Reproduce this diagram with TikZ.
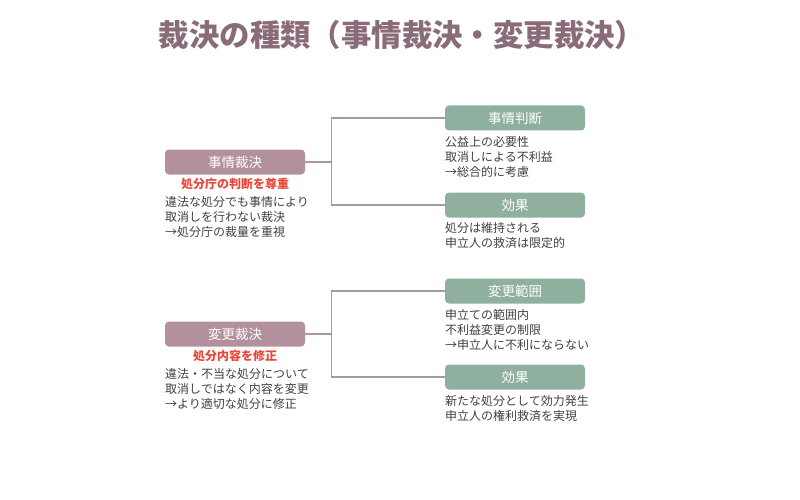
\documentclass[tikz,border=0pt]{standalone}
\usepackage{fontspec}
\setmainfont{Noto Sans CJK JP}
\usetikzlibrary{calc}

\definecolor{titlecol}{HTML}{8A6B79}
\definecolor{mauve}{HTML}{B3919C}
\definecolor{sage}{HTML}{8FAF9F}
\definecolor{accent}{HTML}{E8483A}
\definecolor{linecol}{HTML}{A8999F}
\definecolor{bodycol}{HTML}{404040}

\begin{document}
\begin{tikzpicture}[x=1pt,y=-1pt]
	 \tikzstyle{kind}=[rectangle,rounded corners=4pt,minimum width=140pt,minimum height=25pt,inner sep=0pt,text=white,font=\fontsize{13.5}{15}\selectfont]
	 \tikzstyle{main}=[kind,fill=mauve]
	 \tikzstyle{sub}=[kind,fill=sage]
	 \tikzstyle{point}=[text=accent,font=\fontsize{12}{14}\selectfont\bfseries]
	 \tikzstyle{body}=[anchor=north west,inner sep=0pt,align=left,text=bodycol,font=\fontsize{12}{15}\selectfont]
	 \tikzstyle{edge}=[draw,line width=1.2pt,linecol]
	 \useasboundingbox (0,0) rectangle (800,500);
	 \node[text=titlecol,font=\fontsize{30.4}{33}\selectfont\bfseries] (title) at (402,35) {裁決の種類（事情裁決・変更裁決）};
	 % 事情裁決
	 \node[main] (c1) at (235,162) {事情裁決};
	 \node[point] (p1) at (235,184) {処分庁の判断を尊重};
	 \node[body] (t1) at (165,196.5) {違法な処分でも事情により\\取消しを行わない裁決\\→処分庁の裁量を重視};
	 \node[sub] (c1a) at (515,118) {事情判断};
	 \node[body] (t1a) at (445,136.5) {公益上の必要性\\取消しによる不利益\\→総合的に考慮};
	 \node[sub] (c1b) at (515,205) {効果};
	 \node[body] (t1b) at (445,222.5) {処分は維持される\\申立人の救済は限定的};
	 \draw[edge] (c1.east) -- ++(26,0) |- (c1a.west);
	 \draw[edge] (c1.east) -- ++(26,0) |- (c1b.west);
	 % 変更裁決
	 \node[main] (c2) at (235,334) {変更裁決};
	 \node[point] (p2) at (235,356) {処分内容を修正};
	 \node[body] (t2) at (165,368.5) {違法・不当な処分について\\取消しではなく内容を変更\\→より適切な処分に修正};
	 \node[sub] (c2a) at (515,291) {変更範囲};
	 \node[body] (t2a) at (445,309.5) {申立ての範囲内\\不利益変更の制限\\→申立人に不利にならない};
	 \node[sub] (c2b) at (515,377) {効果};
	 \node[body] (t2b) at (445,395.5) {新たな処分として効力発生\\申立人の権利救済を実現};
	 \draw[edge] (c2.east) -- ++(26,0) |- (c2a.west);
	 \draw[edge] (c2.east) -- ++(26,0) |- (c2b.west);
 \end{tikzpicture}
\end{document}
